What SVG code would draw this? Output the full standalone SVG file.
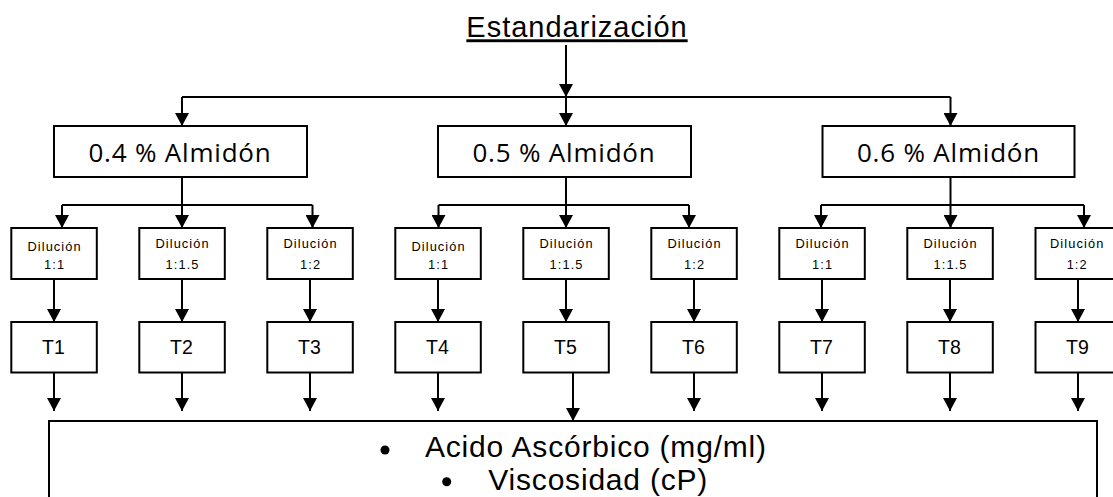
<svg xmlns="http://www.w3.org/2000/svg" width="1113" height="497" viewBox="0 0 1113 497">
<style>
.bg{fill:#ffffff}
.box{fill:#ffffff;stroke:#000000;stroke-width:2}
.ln{fill:none;stroke:#000000;stroke-width:2}
.arr{fill:none;stroke:#000000;stroke-width:2;marker-end:url(#ah)}
.title{font-family:"Liberation Sans",Arial,sans-serif;font-size:29px;letter-spacing:1px;text-anchor:middle;fill:#000;text-decoration:underline}
.big{font-family:"Open Sans","Noto Sans",sans-serif;font-size:26px;letter-spacing:0.8px;text-anchor:middle;fill:#000}
.dil{font-family:"Liberation Sans",Arial,sans-serif;font-size:12.8px;letter-spacing:1.1px;text-anchor:middle;fill:#000}
.t{font-family:"Liberation Sans",Arial,sans-serif;font-size:19.5px;text-anchor:middle;fill:#000}
.res{font-family:"Liberation Sans",Arial,sans-serif;font-size:30px;letter-spacing:0.8px;fill:#000}
</style>
<defs>
<marker id="ah" viewBox="0 0 13 14" refX="13" refY="7" markerWidth="13" markerHeight="14" markerUnits="userSpaceOnUse" orient="auto">
<path d="M0,0 L13,7 L0,14 Z" fill="#000"/>
</marker>
</defs>
<rect class="bg" x="0" y="0" width="1113" height="497"/>

<g id="connectors">
<line class="arr" x1="566" y1="45" x2="566" y2="97"/>
<polyline class="ln" points="182,97 950.5,97"/>
<line class="arr" x1="182" y1="97" x2="182" y2="126"/>
<line class="arr" x1="566" y1="97" x2="566" y2="126"/>
<line class="arr" x1="950.5" y1="97" x2="950.5" y2="126"/>

<line class="ln" x1="182" y1="177" x2="182" y2="205"/>
<line class="ln" x1="62" y1="205" x2="312.5" y2="205"/>
<line class="arr" x1="62" y1="205" x2="62" y2="228"/>
<line class="arr" x1="182" y1="205" x2="182" y2="228"/>
<line class="arr" x1="312.5" y1="205" x2="312.5" y2="228"/>

<line class="ln" x1="566" y1="177" x2="566" y2="205"/>
<line class="ln" x1="438.5" y1="205" x2="689" y2="205"/>
<line class="arr" x1="438.5" y1="205" x2="438.5" y2="228"/>
<line class="arr" x1="566" y1="205" x2="566" y2="228"/>
<line class="arr" x1="689" y1="205" x2="689" y2="228"/>

<line class="ln" x1="950.5" y1="177" x2="950.5" y2="205"/>
<line class="ln" x1="821" y1="205" x2="1084" y2="205"/>
<line class="arr" x1="821" y1="205" x2="821" y2="228"/>
<line class="arr" x1="950.5" y1="205" x2="950.5" y2="228"/>
<line class="arr" x1="1084" y1="205" x2="1084" y2="228"/>

<line class="arr" x1="54" y1="279" x2="54" y2="322"/>
<line class="arr" x1="182" y1="279" x2="182" y2="322"/>
<line class="arr" x1="310" y1="279" x2="310" y2="322"/>
<line class="arr" x1="438" y1="279" x2="438" y2="322"/>
<line class="arr" x1="566" y1="279" x2="566" y2="322"/>
<line class="arr" x1="694" y1="279" x2="694" y2="322"/>
<line class="arr" x1="822" y1="279" x2="822" y2="322"/>
<line class="arr" x1="950" y1="279" x2="950" y2="322"/>
<line class="arr" x1="1078" y1="279" x2="1078" y2="322"/>

<line class="arr" x1="54" y1="372" x2="54" y2="411"/>
<line class="arr" x1="182" y1="372" x2="182" y2="411"/>
<line class="arr" x1="310" y1="372" x2="310" y2="411"/>
<line class="arr" x1="438" y1="372" x2="438" y2="411"/>
<line class="arr" x1="573" y1="372" x2="573" y2="421"/>
<line class="arr" x1="694" y1="372" x2="694" y2="411"/>
<line class="arr" x1="822" y1="372" x2="822" y2="411"/>
<line class="arr" x1="950" y1="372" x2="950" y2="411"/>
<line class="arr" x1="1078" y1="372" x2="1078" y2="411"/>
</g>

<g id="title">
<text class="title" x="577" y="37.3">Estandarización</text>
</g>

<g id="almidon-04"><rect class="box" x="54" y="126" width="253" height="51"/><text class="big" x="180" y="161.7">0.4 % Almidón</text></g>
<g id="almidon-05"><rect class="box" x="438" y="126" width="253" height="51"/><text class="big" x="564" y="161.7">0.5 % Almidón</text></g>
<g id="almidon-06"><rect class="box" x="822.5" y="126" width="252" height="51"/><text class="big" x="948.5" y="161.7">0.6 % Almidón</text></g>

<g id="dil-1"><rect class="box" x="11.3" y="228" width="85.5" height="51"/><text class="dil" x="54.6" y="250.5">Dilución</text><text class="dil" x="54.6" y="268.5">1:1</text></g>
<g id="dil-2"><rect class="box" x="139.3" y="228" width="85.5" height="51"/><text class="dil" x="182.6" y="247.5">Dilución</text><text class="dil" x="182.6" y="268.5">1:1.5</text></g>
<g id="dil-3"><rect class="box" x="267.3" y="228" width="85.5" height="51"/><text class="dil" x="310.6" y="247.5">Dilución</text><text class="dil" x="310.6" y="268.5">1:2</text></g>
<g id="dil-4"><rect class="box" x="395.3" y="228" width="85.5" height="51"/><text class="dil" x="438.6" y="250.5">Dilución</text><text class="dil" x="438.6" y="268.5">1:1</text></g>
<g id="dil-5"><rect class="box" x="523.3" y="228" width="85.5" height="51"/><text class="dil" x="566.6" y="247.5">Dilución</text><text class="dil" x="566.6" y="268.5">1:1.5</text></g>
<g id="dil-6"><rect class="box" x="651.3" y="228" width="85.5" height="51"/><text class="dil" x="694.6" y="247.5">Dilución</text><text class="dil" x="694.6" y="268.5">1:2</text></g>
<g id="dil-7"><rect class="box" x="779.3" y="228" width="85.5" height="51"/><text class="dil" x="822.6" y="247.5">Dilución</text><text class="dil" x="822.6" y="268.5">1:1</text></g>
<g id="dil-8"><rect class="box" x="907.3" y="228" width="85.5" height="51"/><text class="dil" x="950.6" y="247.5">Dilución</text><text class="dil" x="950.6" y="268.5">1:1.5</text></g>
<g id="dil-9"><rect class="box" x="1035.5" y="228" width="85.5" height="51"/><text class="dil" x="1077.2" y="247.5">Dilución</text><text class="dil" x="1077.2" y="268.5">1:2</text></g>

<g id="T1"><rect class="box" x="11.3" y="322" width="85.5" height="50.5"/><text class="t" x="53.5" y="354">T1</text></g>
<g id="T2"><rect class="box" x="139.3" y="322" width="85.5" height="50.5"/><text class="t" x="181.5" y="354">T2</text></g>
<g id="T3"><rect class="box" x="267.3" y="322" width="85.5" height="50.5"/><text class="t" x="309.5" y="354">T3</text></g>
<g id="T4"><rect class="box" x="395.3" y="322" width="85.5" height="50.5"/><text class="t" x="437.5" y="354">T4</text></g>
<g id="T5"><rect class="box" x="523.3" y="322" width="85.5" height="50.5"/><text class="t" x="565.5" y="354">T5</text></g>
<g id="T6"><rect class="box" x="651.3" y="322" width="85.5" height="50.5"/><text class="t" x="693.5" y="354">T6</text></g>
<g id="T7"><rect class="box" x="779.3" y="322" width="85.5" height="50.5"/><text class="t" x="821.5" y="354">T7</text></g>
<g id="T8"><rect class="box" x="907.3" y="322" width="85.5" height="50.5"/><text class="t" x="949.5" y="354">T8</text></g>
<g id="T9"><rect class="box" x="1035.5" y="322" width="85.5" height="50.5"/><text class="t" x="1077.5" y="354">T9</text></g>

<g id="results">
<rect class="box" x="49" y="421" width="1048" height="100"/>
<circle cx="385" cy="450" r="4.5" fill="#000"/>
<text class="res" x="425" y="456.7">Acido Ascórbico (mg/ml)</text>
<circle cx="446.7" cy="481.7" r="4.5" fill="#000"/>
<text class="res" x="488.3" y="490">Viscosidad (cP)</text>
</g>
</svg>
